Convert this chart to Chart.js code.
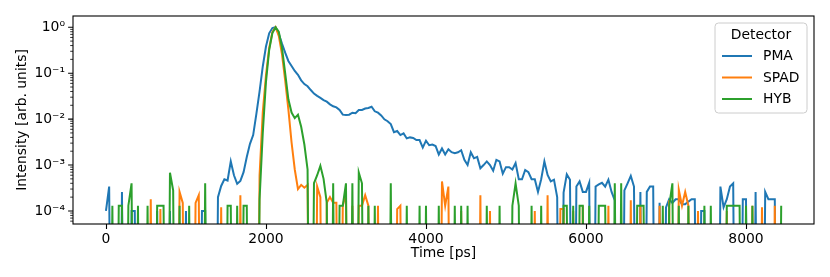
<!DOCTYPE html>
<html><head><meta charset="utf-8">
<script src="https://cdn.jsdelivr.net/npm/chart.js@4.4.1/dist/chart.umd.min.js"></script>
<style>html,body{margin:0;padding:0;background:#fff}</style>
</head><body>
<canvas id="c" width="830" height="277" style="display:block;width:830px;height:277px"></canvas>
<script>
// ---- data (time bins in ps, normalised intensities; 0 = empty bin) ----
const timePs = [
0,40,80,120,160,200,240,280,320,360,
400,440,480,520,560,600,640,680,720,760,
800,840,880,920,960,1000,1040,1080,1120,1160,
1200,1240,1280,1320,1360,1400,1440,1480,1520,1560,
1600,1640,1680,1720,1760,1800,1840,1880,1920,1960,
2000,2040,2080,2120,2160,2200,2240,2280,2320,2360,
2400,2440,2480,2520,2560,2600,2640,2680,2720,2760,
2800,2840,2880,2920,2960,3000,3040,3080,3120,3160,
3200,3240,3280,3320,3360,3400,3440,3480,3520,3560,
3600,3640,3680,3720,3760,3800,3840,3880,3920,3960,
4000,4040,4080,4120,4160,4200,4240,4280,4320,4360,
4400,4440,4480,4520,4560,4600,4640,4680,4720,4760,
4800,4840,4880,4920,4960,5000,5040,5080,5120,5160,
5200,5240,5280,5320,5360,5400,5440,5480,5520,5560,
5600,5640,5680,5720,5760,5800,5840,5880,5920,5960,
6000,6040,6080,6120,6160,6200,6240,6280,6320,6360,
6400,6440,6480,6520,6560,6600,6640,6680,6720,6760,
6800,6840,6880,6920,6960,7000,7040,7080,7120,7160,
7200,7240,7280,7320,7360,7400,7440,7480,7520,7560,
7600,7640,7680,7720,7760,7800,7840,7880,7920,7960,
8000,8040,8080,8120,8160,8200,8240,8280,8320,8360,
8400,8440];

const pma = [
1e-4,3.4e-4,0,0,0,2.6e-4,0,0,1e-4,1e-4,
0,0,0,0,0,0,1e-4,0,0,0,
1e-4,0,0,0,0,1e-4,0,0,0,0,
1e-4,1e-4,0,0,0,2e-4,3.5e-4,4.9e-4,4.6e-4,1.2e-3,
6e-4,3.9e-4,4.5e-4,7e-4,1.5e-3,2.9e-3,4.5e-3,0.013,0.04,0.14,
0.38,0.74,0.96,1.0,0.72,0.44,0.28,0.185,0.144,0.112,
0.092,0.070,0.058,0.052,0.043,0.036,0.032,0.029,0.026,0.024,
0.021,0.019,0.018,0.0158,0.0125,0.0123,0.0125,0.0138,0.0134,0.0158,
0.0158,0.017,0.0175,0.0186,0.0148,0.0138,0.012,0.0099,0.009,0.0078,
0.0052,0.0055,0.0045,0.0049,0.0038,0.0040,0.0039,0.0035,0.0035,0.0024,
0.0034,0.0027,0.0028,0.0026,0.0017,0.0023,0.0017,0.0022,0.0019,0.0018,
0.0019,0.0021,0.0013,0.0010,0.0019,0.0014,0.0015,0.00085,0.0010,0.0012,
0.0010,0.00075,0.0013,0.0012,0.00065,0.0009,0.0009,0.0008,0.0011,0.00049,
0.00049,0.00078,0.0007,0.00049,0.00049,0.00026,0.00049,0.0012,0.00061,0.00044,
0.00048,0.0002,0,0.00025,0.00063,0.00048,0,0.00034,0.00044,0.00026,
0.00026,0.00041,0,0.00034,0.00038,0.00041,0.00034,0.00048,0.00026,0.00017,
0,0,0.00028,0.0004,0.00058,0.00034,0,0.00026,0,0.00026,
0.00034,0.00034,0,0.00015,0,0.00012,0.00018,0.00015,0.00018,0.00018,
0.00014,0.00014,0.00016,0.00018,0.00018,0,1e-4,1e-4,0,0,
0,0,0.00034,0.00012,0.00018,0.00034,0.0004,0,0,0.00018,
0.00018,0,0,0.00026,0,0,0.00026,0.00018,0.00018,0.00018,
0,0];

const spad = [
0,0,0,0,0,0,0,0,0,0,
0,0,0,0,1.8e-4,0,0,1.1e-4,0,0,
0,0,0,2.6e-4,1.5e-4,0,0,0,1.5e-4,2.2e-4,
0,0,0,0,0,0,1.2e-4,0,0,0,
0,0,2.2e-4,0,0,0,0,0,6e-4,0.014,
0.09,0.35,0.78,1.0,0.65,0.26,0.07,0.0163,0.0031,8e-4,
3e-4,3.7e-4,3.2e-4,3.7e-4,0,0,3.4e-4,2e-4,0,1.5e-4,
2e-4,1.5e-4,1.5e-4,0,1.3e-4,2.4e-4,0,1.3e-4,0,1.3e-4,
1.3e-4,2.2e-4,1.3e-4,0,0,1.3e-4,0,0,0,0,
0,1.1e-4,1.3e-4,0,0,0,0,0,0,0,
0,0,0,0,0,4.4e-4,1.3e-4,3.4e-4,0,0,
0,1e-4,0,0,0,0,0,2.2e-4,0,0,
1e-4,0,0,0,0,0,0,0,0,0,
0,0,0,0,1e-4,0,0,0,2.2e-4,0,
0,0,1.1e-4,1.1e-4,0,0,1e-4,0,0,1.3e-4,
0,0,0,0,0,0,0,1.3e-4,0,0,
0,0,0,0,1.7e-4,0,0,1.3e-4,0,0,
0,0,0,1.3e-4,0,0,1.7e-4,0,0,2.9e-4,
1.3e-4,2.6e-4,1.3e-4,0,0,1e-4,0,0,0,0,
0,0,0,0,1e-4,0,0,0,0,0,
0,0,1.3e-4,0,0,1.2e-4,0,0,0,1.3e-4,
0,0];

const hyb = [
0,0,1.3e-4,0,1.3e-4,1.3e-4,0,1.3e-4,4e-4,0,
1.3e-4,0,0,1.3e-4,0,0,1.3e-4,1.3e-4,1.3e-4,0,
6.8e-4,2.8e-4,0,1.3e-4,0,0,1.3e-4,0,0,0,
0,4e-4,0,0,0,0,0,0,1.3e-4,1.3e-4,
0,1.3e-4,0,1.3e-4,1.3e-4,0,0,0,1.8e-4,5e-3,
0.065,0.32,0.75,1.0,0.8,0.36,0.1,0.027,0.0139,0.0105,
0.0125,0.0068,0.0028,8e-4,0,4e-4,6e-4,9.6e-4,5e-4,1.5e-4,
0,4e-4,0,1.3e-4,1.3e-4,4e-4,0,4e-4,0,6.9e-4,
4e-4,0,1.3e-4,0,1.3e-4,0,0,0,0,4e-4,
0,0,0,0,1.3e-4,0,0,0,1.3e-4,0,
1.3e-4,0,0,0,1.3e-4,0,0,0,0,1.3e-4,
0,1.3e-4,0,1.3e-4,0,0,0,0,0,1.3e-4,
0,0,0,1.3e-4,0,0,0,1.3e-4,4e-4,1.3e-4,
0,0,0,1.3e-4,0,0,1.3e-4,0,0,0,
0,0,0,1.3e-4,1.3e-4,0,1.3e-4,0,1.3e-4,1.3e-4,
0,1.3e-4,0,0,1.3e-4,1.3e-4,1.3e-4,0,0,4e-4,
0,4e-4,0,0,0,0,1.3e-4,1.3e-4,1.3e-4,0,
0,0,0,0,1.3e-4,0,1.3e-4,4e-4,0,1.3e-4,
0,0,1.3e-4,0,0,0,0,1.3e-4,0,1.3e-4,
0,0,0,0,1.3e-4,1.3e-4,1.3e-4,1.3e-4,1.3e-4,0,
1.3e-4,0,1.3e-4,0,0,0,0,0,0,0,
0,1.3e-4];

const seriesNames = ['PMA', 'SPAD', 'HYB'];
const seriesColors = ['#1f77b4', '#ff7f0e', '#2ca02c'];
const xTicks = [0, 2000, 4000, 6000, 8000];
const yDecades = [1e-4, 1e-3, 1e-2, 1e-1, 1];
const yDecadeLabels = ['10\u207B\u2074', '10\u207B\u00B3', '10\u207B\u00B2', '10\u207B\u00B9', '10\u2070'];
const xTitle = 'Time [ps]';
const yTitle = 'Intensity [arb. units]';
const legendTitle = 'Detector';

// ---- chart ----
const FONT = 'DejaVu Sans';
const FS = 13.9;
const X_MIN = -412, X_MAX = 8850, Y_MIN = 5.2e-5, Y_MAX = 1.76;
const EMPTY_BIN = 1e-12; // log scale: empty bins drop below the axis

function buildPoints(values) {
  return timePs.map((t, i) => ({ x: t, y: values[i] > 0 ? values[i] : EMPTY_BIN }));
}
const allSeries = [pma, spad, hyb];

// minor tick positions for the log axis
const yMinor = [];
[1e-5, 1e-4, 1e-3, 1e-2, 1e-1].forEach(d => {
  for (let k = 2; k <= 9; k++) { const v = k * d; if (v >= Y_MIN && v <= Y_MAX) yMinor.push(v); }
});

const decorPlugin = {
  id: 'decor',
  afterDatasetsDraw(chart) {
    const { ctx, chartArea: a, scales } = chart;
    ctx.save();
    ctx.strokeStyle = '#000';
    ctx.lineWidth = 1.1;
    ctx.beginPath();
    xTicks.forEach(v => {
      const px = Math.round(scales.x.getPixelForValue(v)) + 0.5;
      ctx.moveTo(px, a.bottom); ctx.lineTo(px, a.bottom + 4.9);
    });
    yDecades.forEach(v => {
      const py = scales.y.getPixelForValue(v);
      ctx.moveTo(a.left, py); ctx.lineTo(a.left - 4.9, py);
    });
    ctx.stroke();
    ctx.lineWidth = 0.8;
    ctx.beginPath();
    yMinor.forEach(v => {
      const py = scales.y.getPixelForValue(v);
      ctx.moveTo(a.left, py); ctx.lineTo(a.left - 2.8, py);
    });
    ctx.stroke();
    ctx.lineWidth = 1.1;
    ctx.strokeRect(a.left, a.top, a.right - a.left, a.bottom - a.top);
    // legend
    const bw = 92, bh = 90;
    const bx = a.right - 7 - bw, by = a.top + 7;
    ctx.beginPath();
    ctx.roundRect(bx, by, bw, bh, 3.5);
    ctx.fillStyle = 'rgba(255,255,255,0.8)';
    ctx.fill();
    ctx.strokeStyle = '#cccccc';
    ctx.lineWidth = 1;
    ctx.stroke();
    ctx.font = FS + 'px "' + FONT + '"';
    ctx.fillStyle = '#000';
    ctx.textBaseline = 'middle';
    ctx.textAlign = 'center';
    ctx.fillText(legendTitle, bx + bw / 2, by + 12.5);
    ctx.textAlign = 'left';
    chart.data.datasets.forEach((ds, i) => {
      const ry = by + 33 + i * 21.5;
      ctx.strokeStyle = ds.borderColor;
      ctx.lineWidth = 2;
      ctx.beginPath();
      ctx.moveTo(bx + 7, ry); ctx.lineTo(bx + 37, ry);
      ctx.stroke();
      ctx.fillText(ds.label, bx + 48, ry + 0.5);
    });
    ctx.restore();
  }
};

new Chart(document.getElementById('c'), {
  type: 'line',
  data: {
    datasets: allSeries.map((vals, i) => ({
      label: seriesNames[i],
      data: buildPoints(vals),
      borderColor: seriesColors[i],
      backgroundColor: seriesColors[i],
      borderWidth: 2,
      pointRadius: 0,
      pointHoverRadius: 0,
      tension: 0,
      fill: false,
      clip: 0,
      order: 2 - i
    }))
  },
  options: {
    responsive: false,
    animation: false,
    events: [],
    layout: { padding: { left: 0, right: 16, top: 16, bottom: 0 } },
    plugins: { legend: { display: false }, tooltip: { enabled: false } },
    scales: {
      x: {
        type: 'linear', min: X_MIN, max: X_MAX,
        afterBuildTicks: s => { s.ticks = xTicks.map(v => ({ value: v })); },
        afterFit: s => { s.height = 53; },
        border: { display: false },
        grid: { display: true, drawOnChartArea: false, drawTicks: true, tickLength: 5, tickColor: 'rgba(0,0,0,0)' },
        ticks: { color: '#000', font: { family: FONT, size: FS }, padding: 2, maxRotation: 0, autoSkip: false,
                 callback: v => String(v) },
        title: { display: true, text: xTitle, color: '#000', font: { family: FONT, size: FS }, padding: { top: 0, bottom: 14.8 } }
      },
      y: {
        type: 'logarithmic', min: Y_MIN, max: Y_MAX,
        afterBuildTicks: s => {
          s.ticks = yDecades.concat(yMinor).sort((p, q) => p - q).map(v => ({ value: v }));
        },
        afterFit: s => { s.width = 73; },
        border: { display: false },
        grid: { display: true, drawOnChartArea: false, drawTicks: true, tickLength: 5, tickColor: 'rgba(0,0,0,0)' },
        ticks: { color: '#000', font: { family: FONT, size: FS }, padding: 3, autoSkip: false,
                 callback: v => { const k = yDecades.findIndex(d => Math.abs(d - v) / d < 1e-6); return k >= 0 ? yDecadeLabels[k] : ''; } },
        title: { display: true, text: yTitle, color: '#000', font: { family: FONT, size: FS }, padding: { top: 13.6, bottom: 0 } }
      }
    }
  },
  plugins: [decorPlugin]
});
</script>
</body></html>
